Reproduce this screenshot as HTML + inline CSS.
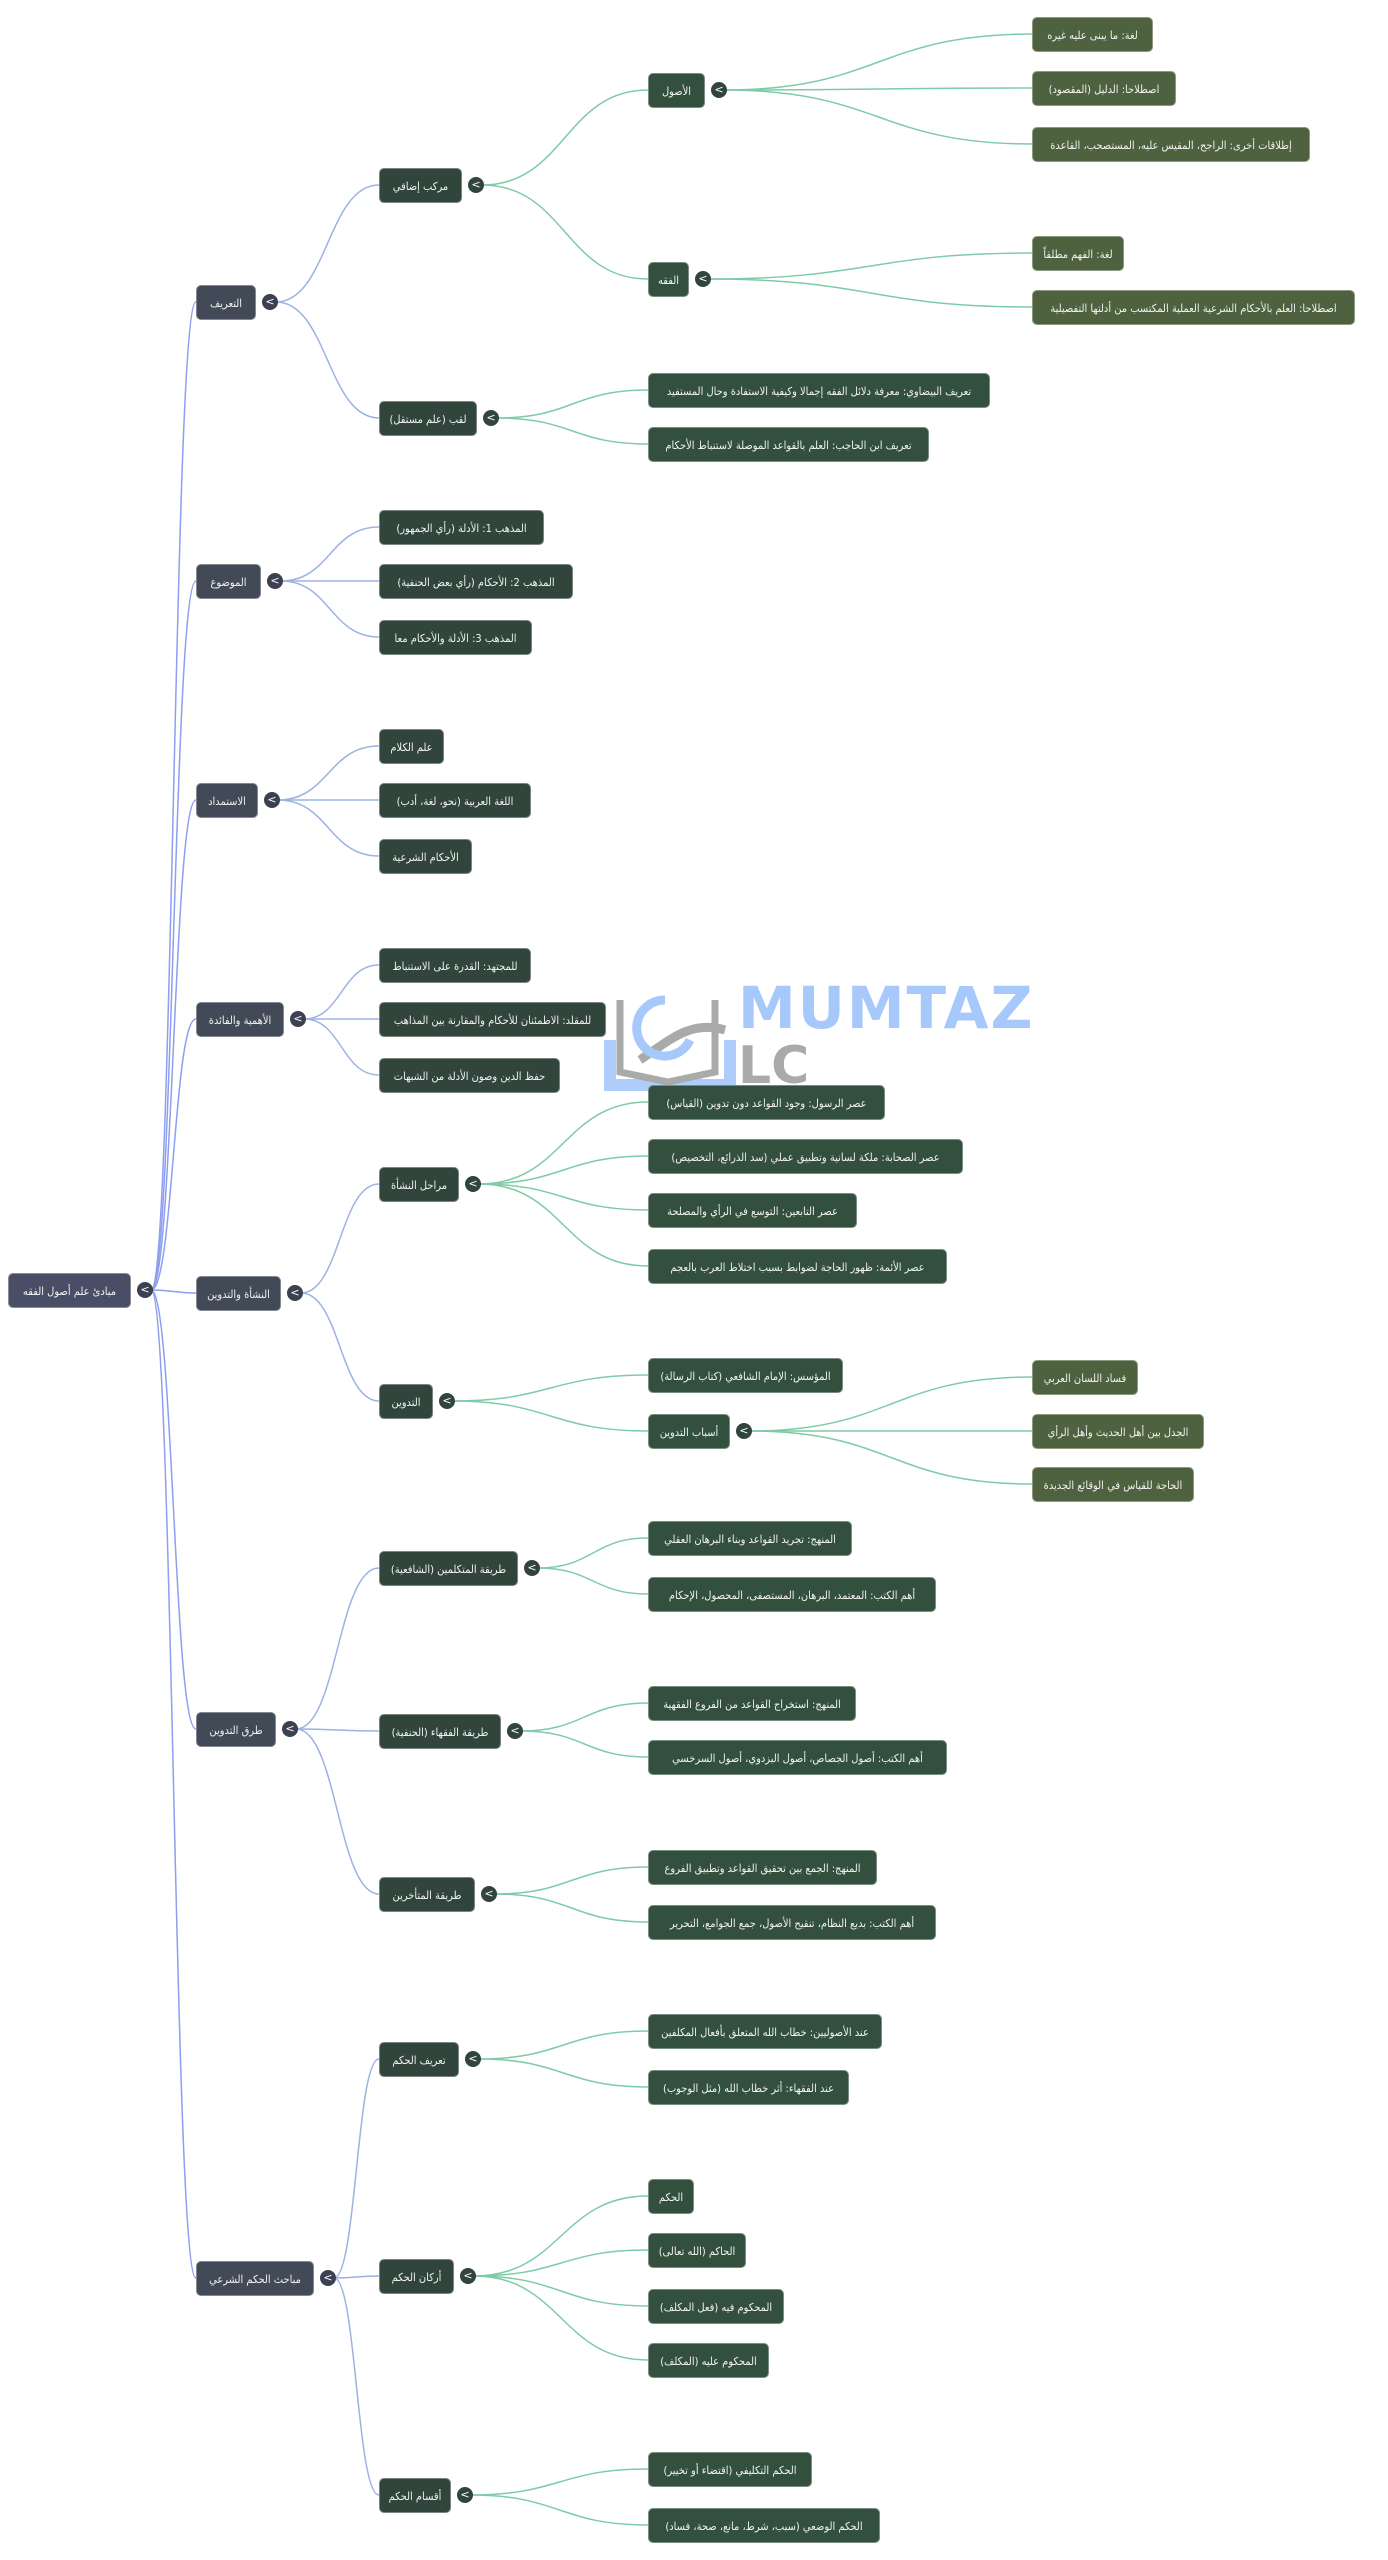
<!DOCTYPE html>
<html><head><meta charset="utf-8">
<style>
html,body{margin:0;padding:0;background:#fff;}
body{width:1388px;height:2560px;position:relative;overflow:hidden;font-family:"DejaVu Sans Condensed","DejaVu Sans","Liberation Sans",sans-serif;}
.n{position:absolute;height:35px;line-height:35px;border-radius:5px;color:#f2f2f2;font-size:11px;direction:rtl;text-align:center;padding:0 4px;box-sizing:border-box;white-space:nowrap;border:1px solid rgba(255,255,255,0.35);overflow:hidden;}
.c{position:absolute;width:16px;height:16px;border-radius:50%;background:#32453d;color:#fff;font-size:11px;line-height:16px;text-align:center;font-family:"DejaVu Sans",sans-serif;}
svg{position:absolute;left:0;top:0;}
.wm1{position:absolute;left:738px;top:974px;font:bold 58px "DejaVu Sans","Liberation Sans",sans-serif;color:#a6c8fb;letter-spacing:2px;}
.wm2{position:absolute;left:738px;top:1036px;font:bold 52px "DejaVu Sans","Liberation Sans",sans-serif;color:#a9abab;}
</style></head><body>
<svg id="lines" width="1388" height="2560"></svg>
<svg width="1388" height="2560" style="pointer-events:none">
<path d="M610 1040 L610 1085 L730 1085 L730 1040" fill="none" stroke="#a6c8fb" stroke-width="12" opacity="0.9"/>
<path d="M620 1000 L620 1072 L668 1082 L715 1072 L715 1000" fill="none" stroke="#a9abab" stroke-width="7"/>
<path d="M640 1060 C670 1040 690 1020 725 1030" fill="none" stroke="#a9abab" stroke-width="9"/>
<path d="M665 1000 A28 28 0 1 0 690 1040" fill="none" stroke="#a6c8fb" stroke-width="9"/>
</svg>
<div class="wm1">MUMTAZ</div>
<div class="wm2">LC</div>
<div id="root"></div>
<script>
var S=1.633;
var C0="#4a4d66",C1="#434a57",C2="#32453d",C3="#33503f",C4="#4f6240";
var N=[
["مبادئ علم أصول الفقه",5,80,790,C0,-1,1],
["التعريف",120,157,185,C1,0,1],
["الموضوع",120,160,356,C1,0,1],
["الاستمداد",120,158,490,C1,0,1],
["الأهمية والفائدة",120,174,624,C1,0,1],
["النشأة والتدوين",120,172,792,C1,0,1],
["طرق التدوين",120,169,1059,C1,0,1],
["مباحث الحكم الشرعي",120,192,1395,C1,0,1],
["مركب إضافي",232,283,113,C2,1,1],
["لقب (علم مستقل)",232,292,256,C2,1,1],
["المذهب 1: الأدلة (رأي الجمهور)",232,333,323,C2,2,0],
["المذهب 2: الأحكام (رأي بعض الحنفية)",232,351,356,C2,2,0],
["المذهب 3: الأدلة والأحكام معا",232,326,390,C2,2,0],
["علم الكلام",232,272,457,C2,3,0],
["اللغة العربية (نحو، لغة، أدب)",232,325,490,C2,3,0],
["الأحكام الشرعية",232,289,524,C2,3,0],
["للمجتهد: القدرة على الاستنباط",232,325,591,C2,4,0],
["للمقلد: الاطمئنان للأحكام والمقارنة بين المذاهب",232,371,624,C2,4,0],
["حفظ الدين وصون الأدلة من الشبهات",232,343,658,C2,4,0],
["مراحل النشأة",232,281,725,C2,5,1],
["التدوين",232,265,858,C2,5,1],
["طريقة المتكلمين (الشافعية)",232,317,960,C2,6,1],
["طريقة الفقهاء (الحنفية)",232,307,1060,C2,6,1],
["طريقة المتأخرين",232,291,1160,C2,6,1],
["تعريف الحكم",232,281,1261,C2,7,1],
["أركان الحكم",232,278,1394,C2,7,1],
["أقسام الحكم",232,276,1528,C2,7,1],
["الأصول",397,432,55,C3,8,1],
["الفقه",397,422,171,C3,8,1],
["تعريف البيضاوي: معرفة دلائل الفقه إجمالا وكيفية الاستفادة وحال المستفيد",397,606,239,C3,9,0],
["تعريف ابن الحاجب: العلم بالقواعد الموصلة لاستنباط الأحكام",397,569,272,C3,9,0],
["عصر الرسول: وجود القواعد دون تدوين (القياس)",397,542,675,C3,19,0],
["عصر الصحابة: ملكة لسانية وتطبيق عملي (سد الذرائع، التخصيص)",397,590,708,C3,19,0],
["عصر التابعين: التوسع في الرأي والمصلحة",397,525,741,C3,19,0],
["عصر الأئمة: ظهور الحاجة لضوابط بسبب اختلاط العرب بالعجم",397,580,775,C3,19,0],
["المؤسس: الإمام الشافعي (كتاب الرسالة)",397,516,842,C3,20,0],
["أسباب التدوين",397,447,876,C3,20,1],
["المنهج: تجريد القواعد وبناء البرهان العقلي",397,522,942,C3,21,0],
["أهم الكتب: المعتمد، البرهان، المستصفى، المحصول، الإحكام",397,573,976,C3,21,0],
["المنهج: استخراج القواعد من الفروع الفقهية",397,524,1043,C3,22,0],
["أهم الكتب: أصول الجصاص، أصول البزدوي، أصول السرخسي",397,580,1076,C3,22,0],
["المنهج: الجمع بين تحقيق القواعد وتطبيق الفروع",397,537,1143,C3,23,0],
["أهم الكتب: بديع النظام، تنقيح الأصول، جمع الجوامع، التحرير",397,573,1177,C3,23,0],
["عند الأصوليين: خطاب الله المتعلق بأفعال المكلفين",397,540,1244,C3,24,0],
["عند الفقهاء: أثر خطاب الله (مثل الوجوب)",397,520,1278,C3,24,0],
["الحكم",397,425,1345,C3,25,0],
["الحاكم (الله تعالى)",397,457,1378,C3,25,0],
["المحكوم فيه (فعل المكلف)",397,480,1412,C3,25,0],
["المحكوم عليه (المكلف)",397,471,1445,C3,25,0],
["الحكم التكليفي (اقتضاء أو تخيير)",397,497,1512,C3,26,0],
["الحكم الوضعي (سبب، شرط، مانع، صحة، فساد)",397,539,1546,C3,26,0],
["لغة: ما يبنى عليه غيره",632,706,21,C4,27,0],
["اصطلاحا: الدليل (المقصود)",632,720,54,C4,27,0],
["إطلاقات أخرى: الراجح، المقيس عليه، المستصحب، القاعدة",632,802,88,C4,27,0],
["لغة: الفهم مطلقاً",632,688,155,C4,28,0],
["اصطلاحا: العلم بالأحكام الشرعية العملية المكتسب من أدلتها التفصيلية",632,830,188,C4,28,0],
["فساد اللسان العربي",632,697,843,C4,36,0],
["الجدل بين أهل الحديث وأهل الرأي",632,737,876,C4,36,0],
["الحاجة للقياس في الوقائع الجديدة",632,731,909,C4,36,0]
];
var root=document.getElementById('root'),lines=document.getElementById('lines'),svgns="http://www.w3.org/2000/svg";
var P=[];
N.forEach(function(d,i){
 var x=Math.round(d[1]*S),r=Math.round(d[2]*S),cy=Math.round(d[3]*S);
 P.push({x:x,r:r,cy:cy,cx:r+14});
 var e=document.createElement('div');e.className='n';e.textContent=d[0];
 e.style.left=x+'px';e.style.width=(r-x)+'px';e.style.top=(cy-17)+'px';e.style.background=d[4];
 root.appendChild(e);
 if(d[6]){var c=document.createElement('div');c.className='c';c.textContent='<';c.style.left=(r+6)+'px';c.style.top=(cy-8)+'px';c.style.background=(d[4]==C0||d[4]==C1)?"#3b4150":"#32453d";root.appendChild(c);}
});
N.forEach(function(d,i){
 if(d[5]<0)return;var p=P[d[5]],q=P[i];
 var x0=p.cx+6,y0=p.cy,x1=q.x,y1=q.cy,m=(x1-x0)/2;
 var col=d[5]==0?"#8e9ef0":(N[d[5]][5]==0?"#9cb3e2":"#7ecba8");
 var pa=document.createElementNS(svgns,'path');
 pa.setAttribute('d','M'+x0+' '+y0+' C'+(x0+m)+' '+y0+' '+(x0+m)+' '+y1+' '+x1+' '+y1);
 pa.setAttribute('fill','none');pa.setAttribute('stroke',col);pa.setAttribute('stroke-width','1.5');
 lines.appendChild(pa);
});
</script>
</body></html>
